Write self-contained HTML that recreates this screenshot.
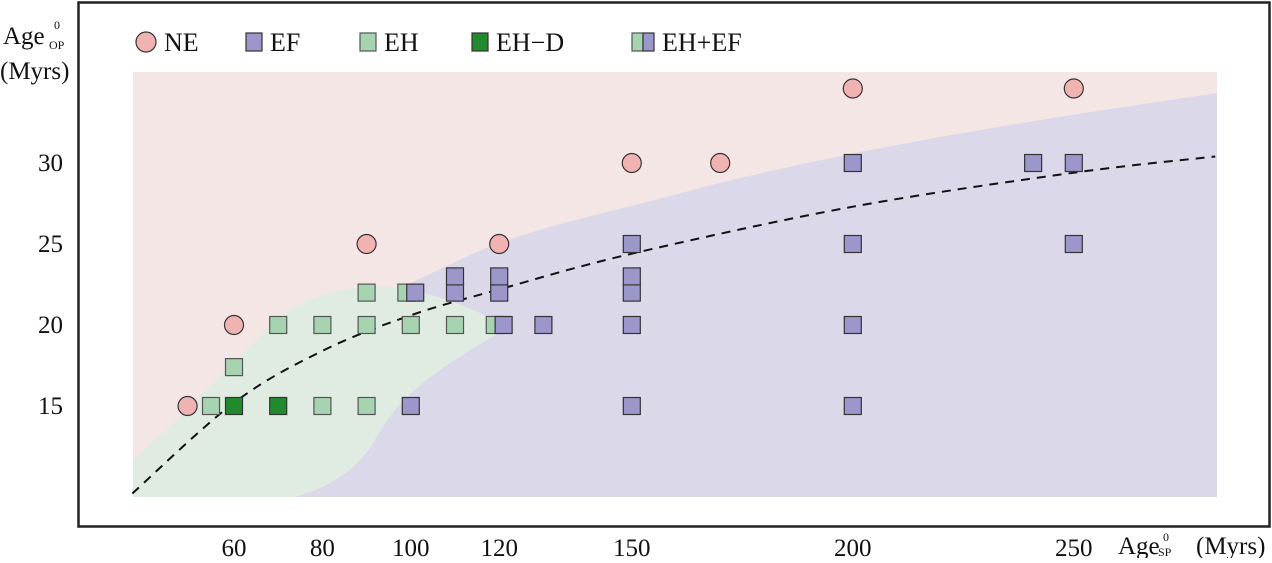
<!DOCTYPE html>
<html><head><meta charset="utf-8"><style>
body{margin:0;background:#fff;}
svg text{font-family:"Liberation Serif",serif;fill:#111;}
</style></head><body>
<svg width="1272" height="558" viewBox="0 0 1272 558" xmlns="http://www.w3.org/2000/svg" id="chart">
<rect x="78.5" y="2.5" width="1191" height="524" fill="none" stroke="#222" stroke-width="2.5"/>
<g id="regions"></g>
<g id="curve"></g>
<g id="points"></g>
<g id="ticks"></g>
<g id="legend">
 <circle cx="146" cy="42" r="10" fill="#f0b3b1" stroke="#333" stroke-width="1.2"/>
 <text x="164" y="51" font-size="26">NE</text>
 <rect x="246" y="33" width="16" height="18" fill="#9b97cb" stroke="#333" stroke-width="1.2"/>
 <text x="270" y="51" font-size="26">EF</text>
 <rect x="360" y="33" width="16" height="18" fill="#a7d4b0" stroke="#555" stroke-width="1.2"/>
 <text x="384" y="51" font-size="26">EH</text>
 <rect x="472" y="33" width="16" height="18" fill="#228a2e" stroke="#333" stroke-width="1.2"/>
 <text x="496" y="51" font-size="26">EH−D</text>
 <rect x="632" y="33" width="11" height="18" fill="#a7d4b0" stroke="#555" stroke-width="1.2"/>
 <rect x="643" y="33" width="11" height="18" fill="#9b97cb" stroke="#333" stroke-width="1.2"/>
 <text x="662" y="51" font-size="26">EH+EF</text>
</g>
<g>
 <text x="3" y="44" font-size="25">Age</text><text x="54" y="29" font-size="12">0</text><text x="49" y="49" font-size="12">OP</text>
 <text x="0" y="79" font-size="25">(Myrs)</text>
</g>
<g>
 <text x="1118" y="554" font-size="25">Age</text><text x="1163" y="541" font-size="12">0</text><text x="1158" y="556" font-size="12">SP</text>
 <text x="1196" y="554" font-size="25">(Myrs)</text>
</g>
</svg>
<script>
const xTicks=[60,80,100,120,150,200,250];
const yTicks=[15,20,25,30];
const neX=[49.5,60,90,120,150,170,200,250];
const neY=[15,20,25,25,30,30,34.6,34.6];
const ehX=[54.8,60,70,80,80,90,90,90,99,100,110,119];
const ehY=[15,17.4,20,15,20,15,20,22,22,20,20,20];
const ehdX=[60,70];
const ehdY=[15,15];
const efX=[100,101,110,110,120,120,121,130,150,150,150,150,150,200,200,200,200,240.8,250,250];
const efY=[15,22,22,23,22,23,20,20,15,20,22,23,25,15,20,25,30,30,30,25];
const fitX=[37,60,80,100,120,150,200,250,282];
const fitY=[9.6,15.2,18.4,20.6,22.2,24.4,27.3,29.4,30.4];
const X=v=>234+(v-60)*4.42;
const Y=v=>406-(v-15)*16.2;
const NS='http://www.w3.org/2000/svg';
function mk(tag,attrs,parent){const e=document.createElementNS(NS,tag);for(const k in attrs)e.setAttribute(k,attrs[k]);document.getElementById(parent).appendChild(e);return e;}
let r;
r=mk('rect',{x:133,y:72,width:1084,height:425,fill:'#f5e6e6'},'regions');


r=mk('path',{d:'M1217,93 C1000,125 850,150 700,188 C600,215 530,228 470,255 L400,288 L290,497 L1217,497 Z',fill:'#dbd8ea'},'regions');


r=mk('path',{d:'M133,460 C190,410 240,350 290,310 C330,285 380,282 420,292 C460,302 500,320 505,330 C460,355 400,390 375,440 C355,475 320,490 295,497 L133,497 Z',fill:'#e0ebe2'},'regions');


const P=fitX.map((v,i)=>[X(v),Y(fitY[i])]);
let d='M'+P[0][0].toFixed(1)+','+P[0][1].toFixed(1);
for(let i=0;i<P.length-1;i++){const p0=P[Math.max(i-1,0)],p1=P[i],p2=P[i+1],p3=P[Math.min(i+2,P.length-1)];
const c1=[p1[0]+(p2[0]-p0[0])/6,p1[1]+(p2[1]-p0[1])/6],c2=[p2[0]-(p3[0]-p1[0])/6,p2[1]-(p3[1]-p1[1])/6];
d+=' C'+c1.map(n=>n.toFixed(1)).join(',')+' '+c2.map(n=>n.toFixed(1)).join(',')+' '+p2.map(n=>n.toFixed(1)).join(',');}
r=mk('path',{d:d,fill:'none',stroke:'#111','stroke-width':2,'stroke-dasharray':'9,7'},'curve');


function sq(x,y,fill,stroke){return mk('rect',{x:X(x)-8.5,y:Y(y)-8.5,width:17,height:17,fill:fill,stroke:stroke,'stroke-width':1.2},'points');}
ehX.forEach((v,i)=>{const e=sq(v,ehY[i],'#a7d4b0','#555');

});
ehdX.forEach((v,i)=>{const e=sq(v,ehdY[i],'#228a2e','#333');

});
efX.forEach((v,i)=>{const e=sq(v,efY[i],'#9b97cb','#333');

});
neX.forEach((v,i)=>{const e=mk('circle',{cx:X(v),cy:Y(neY[i]),r:9.5,fill:'#f0b3b1',stroke:'#333','stroke-width':1.2},'points');

});
xTicks.forEach(v=>{const t=mk('text',{x:X(v),y:556,'font-size':25,'text-anchor':'middle'},'ticks');t.textContent=v;

});
yTicks.forEach(v=>{const t=mk('text',{x:63,y:Y(v)+8,'font-size':25,'text-anchor':'end'},'ticks');t.textContent=v;

});
</script>
</body></html>
